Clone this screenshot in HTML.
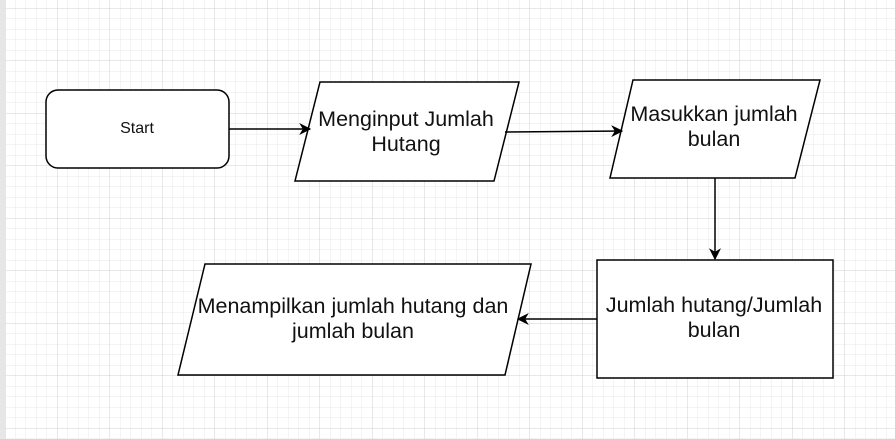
<!DOCTYPE html>
<html><head><style>
body{margin:0;width:895px;height:439px;overflow:hidden;background:#fff}
svg{display:block}
text{font-family:"Liberation Sans",sans-serif;fill:#111}
</style></head><body>
<svg width="895" height="439" viewBox="0 0 895 439">
<defs>
<pattern id="minor" x="4.5" y="8" width="10.5" height="10.5" patternUnits="userSpaceOnUse">
<path d="M0 0H10.5M0 0V10.5" stroke="#e8e8e8" stroke-width="1" fill="none"/>
</pattern>
<pattern id="major" x="4.5" y="8" width="52.5" height="52.5" patternUnits="userSpaceOnUse">
<path d="M0 0H52.5M0 0V52.5" stroke="#d0d0d0" stroke-width="1" fill="none"/>
</pattern>
<marker id="ar" viewBox="0 0 10 10" refX="9" refY="5" markerWidth="12" markerHeight="12" markerUnits="userSpaceOnUse" orient="auto">
<path d="M0 0L10 5L0 10L3 5Z" fill="#000"/>
</marker>
</defs>
<rect width="895" height="439" fill="url(#minor)"/>
<rect width="895" height="439" fill="url(#major)"/>
<rect x="0" y="0" width="6" height="439" fill="#e6e6e6"/>
<g stroke="#000" stroke-width="1.5" fill="#fff">
<rect x="46" y="90" width="183" height="78" rx="12"/>
<polygon points="320,82 519,82 494,181 295,181"/>
<polygon points="633,80 820,80 795,178 610,178"/>
<rect x="597" y="260" width="236" height="118"/>
<polygon points="205,264 531,264 505,375 178,375"/>
</g>
<g stroke="#000" stroke-width="1.5" fill="none">
<line x1="229" y1="129" x2="310" y2="129" marker-end="url(#ar)"/>
<line x1="505" y1="132" x2="622" y2="131" marker-end="url(#ar)"/>
<line x1="715" y1="178" x2="715" y2="259" marker-end="url(#ar)"/>
<line x1="597" y1="319" x2="518" y2="319" marker-end="url(#ar)"/>
</g>
<text x="137" y="133" font-size="16" text-anchor="middle">Start</text>
<g font-size="21.5" text-anchor="middle">
<text x="406" y="126">Menginput Jumlah</text>
<text x="406" y="151">Hutang</text>
<text x="714" y="121">Masukkan jumlah</text>
<text x="714" y="146">bulan</text>
<text x="714" y="312">Jumlah hutang/Jumlah</text>
<text x="714" y="337">bulan</text>
<text x="353" y="313">Menampilkan jumlah hutang dan</text>
<text x="353" y="338">jumlah bulan</text>
</g>
</svg>
</body></html>
